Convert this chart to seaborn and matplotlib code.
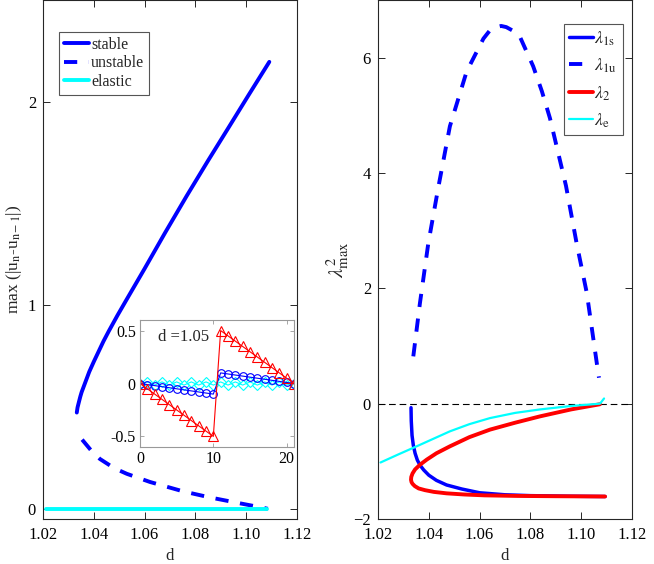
import numpy as np
import pandas as pd
import matplotlib
matplotlib.use("Agg")
import matplotlib.pyplot as plt
import seaborn as sns

# -------------------------
# Data
# -------------------------

# left panel: max |u_n - u_(n-1)| against d
stable_d = [1.0333, 1.0336, 1.0341, 1.0347, 1.0352, 1.0367, 1.0382, 1.0400, 1.0419,
            1.0438, 1.0459, 1.0493, 1.0530, 1.0600, 1.0680, 1.0766, 1.0850,
            1.0930, 1.1010, 1.1091]
stable_v = [0.473, 0.498, 0.523, 0.552, 0.573, 0.623, 0.673, 0.723, 0.773,
            0.823, 0.873, 0.950, 1.030, 1.180, 1.355, 1.538, 1.711,
            1.872, 2.034, 2.196]

unstable_d = [1.0354, 1.0392, 1.0424, 1.0480, 1.0530, 1.0621, 1.0751,
              1.0857, 1.0963, 1.1067, 1.1085]
unstable_v = [0.340, 0.283, 0.245, 0.200, 0.172, 0.132, 0.086,
              0.056, 0.030, 0.005, 0.0]

elastic_d = [1.0212, 1.1080]
elastic_v = [0.0, 0.0]

# inset: profile at d = 1.05
n_site = list(range(22))
prof_red = [0.0, -0.05, -0.10, -0.15, -0.20, -0.25, -0.30, -0.35, -0.40, -0.45, -0.50,
            0.50, 0.45, 0.40, 0.35, 0.30, 0.25, 0.20, 0.15, 0.10, 0.05, 0.0]
prof_blue = [0.0, -0.01, -0.02, -0.03, -0.04, -0.05, -0.06, -0.07, -0.08, -0.09, -0.10,
             0.10, 0.09, 0.08, 0.07, 0.06, 0.05, 0.04, 0.03, 0.02, 0.01, 0.0]
prof_cyan = [0.0, 0.015, -0.015, 0.015, -0.015, 0.015, -0.015, 0.015, -0.015, 0.015, -0.015,
             0.015, -0.015, 0.015, -0.015, 0.015, -0.015, 0.015, -0.015, 0.015, -0.015, 0.0]

# right panel: lambda^2_max against d
l1s_d = [1.0330, 1.0331, 1.0334, 1.0339, 1.0346, 1.0355, 1.0366, 1.0380, 1.0400,
         1.0430, 1.0470, 1.0530, 1.0600, 1.0700, 1.0800, 1.0950, 1.1094]
l1s_v = [-0.07, -0.30, -0.55, -0.72, -0.86, -0.98, -1.07, -1.15, -1.24,
         -1.33, -1.41, -1.48, -1.545, -1.58, -1.595, -1.605, -1.61]

l1u_d = [1.0339, 1.0365, 1.0398, 1.0437, 1.0483, 1.0549, 1.0615, 1.0640, 1.0665,
         1.0685, 1.0705, 1.0730, 1.0759, 1.0811, 1.0845, 1.0877, 1.0940,
         1.0982, 1.1022, 1.1067, 1.1070]
l1u_v = [0.82, 1.74, 2.78, 3.74, 4.81, 5.76, 6.33, 6.47, 6.53,
         6.55, 6.53, 6.47, 6.36, 5.85, 5.42, 4.95, 3.78,
         2.78, 1.92, 0.53, 0.45]

l2_d = [1.1074, 1.0960, 1.0838, 1.0740, 1.0641, 1.0560, 1.0483, 1.0430, 1.0392,
        1.0365, 1.0346, 1.0336, 1.0331, 1.0330, 1.0332, 1.0336, 1.0345, 1.0360,
        1.0385, 1.0420, 1.0470, 1.0540, 1.0620, 1.0750, 1.0900, 1.1094]
l2_v = [-0.01, -0.10, -0.22, -0.33, -0.45, -0.58, -0.74, -0.86, -0.97,
        -1.06, -1.14, -1.21, -1.27, -1.32, -1.36, -1.39, -1.43, -1.47,
        -1.50, -1.53, -1.555, -1.575, -1.59, -1.60, -1.605, -1.61]

le_d = [1.0210, 1.0280, 1.0352, 1.0420, 1.0483, 1.0560, 1.0641, 1.0740,
        1.0838, 1.0960, 1.1074, 1.1090]
le_v = [-1.02, -0.88, -0.74, -0.605, -0.48, -0.355, -0.25, -0.16,
        -0.10, -0.04, 0.00, 0.09]

# -------------------------
# Style
# -------------------------
sns.set_style("ticks")
plt.rcParams['font.family'] = ['Liberation Serif', 'DejaVu Serif']
plt.rcParams['mathtext.fontset'] = 'stix'
plt.rcParams['font.size'] = 12
plt.rcParams['xtick.direction'] = 'in'
plt.rcParams['ytick.direction'] = 'in'
plt.rcParams['xtick.top'] = True
plt.rcParams['ytick.right'] = True
plt.rcParams['axes.linewidth'] = 0.8

dark = '#262626'
ticks_d = [1.02, 1.04, 1.06, 1.08, 1.10, 1.12]
ticks_d_lbl = ['1.02', '1.04', '1.06', '1.08', '1.10', '1.12']

fig = plt.figure(figsize=(6.54, 5.64), dpi=100)
ax1 = fig.add_axes([43/654, 1-519/564, 254/654, 519/564])
ax2 = fig.add_axes([378/654, 1-519/564, 254/654, 519/564])

for ax in (ax1, ax2):
    for s in ax.spines.values():
        s.set_color(dark)
    ax.tick_params(colors=dark, labelcolor='black', length=5, width=0.7, labelsize=12)
    ax.tick_params(axis='x', pad=6)
    ax.tick_params(axis='y', pad=5)

# -------------------------
# Left panel
# -------------------------
sns.lineplot(x=stable_d, y=stable_v, sort=False, estimator=None, color='blue',
             lw=2.8, ax=ax1, label='stable')
sns.lineplot(x=unstable_d, y=unstable_v, sort=False, estimator=None, color='blue',
             lw=2.8, ls=(0, (3.4, 3.0)), ax=ax1, label='unstable')
sns.lineplot(x=elastic_d, y=elastic_v, sort=False, estimator=None, color='cyan',
             lw=2.8, ax=ax1, label='elastic')

ax1.set_xlim(1.02, 1.12)
ax1.set_ylim(-0.05, 2.5)
ax1.set_xticks(ticks_d)
ax1.set_xticklabels(ticks_d_lbl)
ax1.set_yticks([0, 1, 2])
ax1.set_xlabel('d', fontsize=12, labelpad=3)
ax1.set_ylabel(r'max (|u$_\mathrm{n}$-u$_\mathrm{n-1}$|)', fontsize=12.5, labelpad=3)
leg1 = ax1.legend(loc='upper left', bbox_to_anchor=(0.063, 0.938), borderaxespad=0,
                  fancybox=False, edgecolor='#555555', framealpha=1,
                  handlelength=1.6, handletextpad=0.1, labelspacing=0.15,
                  borderpad=0.3, fontsize=11.5)
leg1.get_frame().set_linewidth(0.8)

# inset
axi = fig.add_axes([140/654, 1-447/564, 154/654, 127/564])
sns.lineplot(x=n_site, y=prof_cyan, sort=False, estimator=None, color='cyan', lw=0.8,
             marker='D', markersize=5, markerfacecolor='none', markeredgecolor='cyan',
             markeredgewidth=0.8, ax=axi)
sns.lineplot(x=n_site, y=prof_blue, sort=False, estimator=None, color='blue', lw=0.8,
             marker='o', markersize=5.5, markerfacecolor='none', markeredgecolor='blue',
             markeredgewidth=0.8, ax=axi)
sns.lineplot(x=n_site, y=prof_red, sort=False, estimator=None, color='red', lw=0.8,
             marker='^', markersize=7, markerfacecolor='none', markeredgecolor='red',
             markeredgewidth=0.8, ax=axi)
axi.set_xlim(0, 21)
axi.set_ylim(-0.6, 0.6)
axi.set_xticks([0, 10, 20])
axi.set_yticks([-0.5, 0, 0.5])
axi.set_yticklabels(['-0.5', '0', '0.5'])
for s in axi.spines.values():
    s.set_color('#999999')
axi.tick_params(colors='#999999', labelcolor='black', length=3, width=0.6, labelsize=11.5, pad=3)
axi.text(0.12, 0.87, 'd =1.05', transform=axi.transAxes, fontsize=12, va='center')

# -------------------------
# Right panel
# -------------------------
ax2.axhline(0, color='black', lw=0.8, ls=(0, (6, 3.5)))
sns.lineplot(x=l1s_d, y=l1s_v, sort=False, estimator=None, color='blue',
             lw=2.5, ax=ax2, label=r'$\lambda_{\mathrm{1s}}$')
sns.lineplot(x=l1u_d, y=l1u_v, sort=False, estimator=None, color='blue',
             lw=2.8, ls=(0, (3.4, 3.0)), ax=ax2, label=r'$\lambda_{\mathrm{1u}}$')
sns.lineplot(x=l2_d, y=l2_v, sort=False, estimator=None, color='red',
             lw=2.8, ax=ax2, label=r'$\lambda_{2}$')
sns.lineplot(x=le_d, y=le_v, sort=False, estimator=None, color='cyan',
             lw=1.6, ax=ax2, label=r'$\lambda_{\mathrm{e}}$')

ax2.set_xlim(1.02, 1.12)
ax2.set_ylim(-2, 7)
ax2.set_xticks(ticks_d)
ax2.set_xticklabels(ticks_d_lbl)
ax2.set_yticks([-2, 0, 2, 4, 6])
ax2.set_xlabel('d', fontsize=12, labelpad=3)
ax2.set_ylabel(r'$\lambda^2_{\mathrm{max}}$', fontsize=15, labelpad=2)
leg2 = ax2.legend(loc='upper right', bbox_to_anchor=(0.963, 0.954), borderaxespad=0,
                  fancybox=False, edgecolor='#555555', framealpha=1,
                  handlelength=1.3, handletextpad=0.1, labelspacing=0.5,
                  borderpad=0.3, fontsize=13)
leg2.get_frame().set_linewidth(0.8)

plt.savefig("out.png", dpi=100)
